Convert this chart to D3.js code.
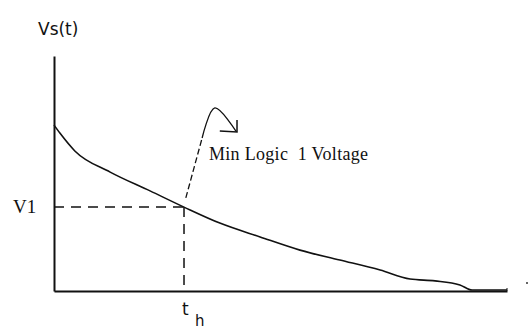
<!DOCTYPE html>
<html>
<head>
<meta charset="utf-8">
<script src="https://cdn.jsdelivr.net/npm/d3@7"></script>
<style>
  body { margin: 0; background: #fff; }
  .lbl-sans { font-family: "DejaVu Sans", sans-serif; fill: #111; }
  .lbl-serif { font-family: "Liberation Serif", "DejaVu Serif", serif; fill: #111; }
</style>
</head>
<body>
<div id="chart"></div>
<script>
// decay curve Vs(t) (arbitrary units 0..10)
const timeVals = [0, 0.13, 0.46, 1.24, 2.12, 2.87, 3.66, 4.55, 5.43, 6.31, 7.20, 7.86, 8.41, 8.96, 9.23, 10];
const voltVals = [7.06, 6.72, 5.96, 5.06, 4.26, 3.57, 2.89, 2.30, 1.74, 1.32, 0.89, 0.51, 0.43, 0.26, 0.04, 0.04];

// threshold point
const th = 2.87;
const v1 = 3.57;

// annotation arrow (data units)
const arrowDashT = [2.91, 3.27];
const arrowDashV = [3.96, 6.51];
const arrowCurveT = [3.27, 3.55, 4.02];
const arrowCurveV = [6.51, 7.79, 6.79];
const arrowHeadT = [3.66, 4.04, 4.04];
const arrowHeadV = [6.81, 6.77, 7.28];

const width = 528, height = 332;
const svg = d3.select('#chart').append('svg')
    .attr('width', width)
    .attr('height', height);

const x = d3.scaleLinear().domain([0, 10]).range([54, 507]);
const y = d3.scaleLinear().domain([0, 10]).range([291, 56]);

// axes, no ticks
svg.append('g')
    .attr('transform', 'translate(0,' + y(0) + ')')
    .call(d3.axisBottom(x).tickValues([]).tickSizeOuter(0));
svg.append('g')
    .attr('transform', 'translate(' + x(0) + ',0)')
    .call(d3.axisLeft(y).tickValues([]).tickSizeOuter(0));
svg.selectAll('.domain').attr('stroke', '#111').attr('stroke-width', 2);

// dashed guides
svg.append('line')
    .attr('x1', x(0)).attr('x2', x(th))
    .attr('y1', y(v1)).attr('y2', y(v1))
    .attr('stroke', '#111').attr('stroke-width', 1.5)
    .attr('stroke-dasharray', '10,7');
svg.append('line')
    .attr('x1', x(th)).attr('x2', x(th))
    .attr('y1', y(v1)).attr('y2', y(0) + 1)
    .attr('stroke', '#111').attr('stroke-width', 1.5)
    .attr('stroke-dasharray', '10,7');

// curve
const pts = timeVals.map((t, i) => [t, voltVals[i]]);
svg.append('path')
    .datum(pts)
    .attr('fill', 'none')
    .attr('stroke', '#111')
    .attr('stroke-width', 1.6)
    .attr('d', d3.line().x(d => x(d[0])).y(d => y(d[1])).curve(d3.curveMonotoneX));

// little tick at the right end of the axis
svg.append('line')
    .attr('x1', x(10)).attr('x2', x(10))
    .attr('y1', y(0)).attr('y2', y(0) - 3)
    .attr('stroke', '#111').attr('stroke-width', 1);

// annotation arrow
const ln = d3.line().x(d => x(d[0])).y(d => y(d[1]));
svg.append('path')
    .datum(arrowDashT.map((t, i) => [t, arrowDashV[i]]))
    .attr('fill', 'none').attr('stroke', '#111').attr('stroke-width', 1.3)
    .attr('stroke-dasharray', '6,3')
    .attr('d', ln);
svg.append('path')
    .datum(arrowCurveT.map((t, i) => [t, arrowCurveV[i]]))
    .attr('fill', 'none').attr('stroke', '#111').attr('stroke-width', 1.3)
    .attr('d', d3.line().x(d => x(d[0])).y(d => y(d[1])).curve(d3.curveCatmullRom));
svg.append('path')
    .datum(arrowHeadT.map((t, i) => [t, arrowHeadV[i]]))
    .attr('fill', 'none').attr('stroke', '#111').attr('stroke-width', 1.5)
    .attr('d', ln);

// labels
svg.append('text').attr('class', 'lbl-sans')
    .attr('x', 38).attr('y', 35)
    .style('font-size', '17px')
    .text('Vs(t)');
svg.append('text').attr('class', 'lbl-serif')
    .attr('x', 13).attr('y', y(v1) + 6)
    .style('font-size', '19px')
    .text('V1');
svg.append('text').attr('class', 'lbl-serif')
    .attr('x', 209).attr('y', 160)
    .style('font-size', '18px')
    .style('letter-spacing', '0.3px')
    .attr('xml:space', 'preserve')
    .text('Min Logic  1 Voltage');
svg.append('text').attr('class', 'lbl-sans')
    .attr('x', x(th) - 2).attr('y', 315)
    .style('font-size', '17px')
    .text('t');
svg.append('text').attr('class', 'lbl-sans')
    .attr('x', x(th) + 11).attr('y', 326)
    .style('font-size', '15px')
    .text('h');
svg.append('circle')
    .attr('cx', 527).attr('cy', 283).attr('r', 1)
    .attr('fill', '#333');
</script>
</body>
</html>
